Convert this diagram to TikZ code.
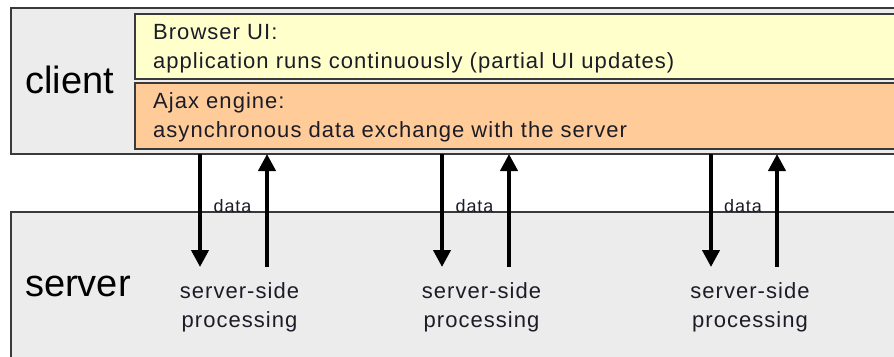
\documentclass[tikz,border=0pt]{standalone}
\usepackage{fontspec}
\setmainfont{Liberation Sans}
\newfontfamily\wfont{Liberation Sans}[LetterSpace=4.7]
\usetikzlibrary{arrows.meta}
\definecolor{uiyellow}{HTML}{FFFFCC}
\definecolor{ajaxorange}{HTML}{FFCC99}
\definecolor{panelgray}{HTML}{ECECEC}
\definecolor{edgegray}{HTML}{3A3A3A}
\definecolor{txt}{HTML}{1C1C28}
\begin{document}
\begin{tikzpicture}[x=1pt,y=-1pt,
  panel/.style={draw=edgegray,line width=1.6pt,fill=panelgray,anchor=north west,inner sep=0pt,outer sep=0pt},
  layer/.style={draw=edgegray,line width=1.4pt,anchor=north west,inner sep=0pt,outer sep=0pt},
  boxtext/.style={anchor=base west,inner sep=0pt,text=txt,font=\wfont\fontsize{22}{26}\selectfont},
  proctext/.style={anchor=base,inner sep=0pt,text=txt,font=\wfont\fontsize{22}{26}\selectfont},
  datatext/.style={anchor=base,inner sep=0pt,text=txt,font=\wfont\fontsize{18}{22}\selectfont},
  bigtext/.style={anchor=base west,inner sep=0pt,text=black,font=\fontsize{38}{40}\selectfont},
  flow/.style={line width=4pt,-{Triangle[width=17pt,length=17pt]}}]
\useasboundingbox (0,0) rectangle (894,356);
\fill[white] (0,0) rectangle (894,356);
% panels
\node[panel,minimum width=900pt,minimum height=146pt] (client) at (11,8) {};
\node[panel,minimum width=900pt,minimum height=160pt] (server) at (11,212) {};
\node[layer,fill=uiyellow,minimum width=780pt,minimum height=65pt] (ui) at (135,14) {};
\node[layer,fill=ajaxorange,minimum width=780pt,minimum height=66pt] (engine) at (135,83) {};
% labels
\node[bigtext] (clientlbl) at (25,93) {client};
\node[bigtext] (serverlbl) at (25,296) {server};
\node[boxtext] (ui1) at (153,39) {Browser UI:};
\node[boxtext] (ui2) at (153,68) {application runs continuously (partial UI updates)};
\node[boxtext] (en1) at (153,108) {Ajax engine:};
\node[boxtext] (en2) at (153,137) {asynchronous data exchange with the server};
% processing points
\foreach \i/\d/\u in {1/200/267, 2/442/509, 3/711/777} {
  \coordinate (down\i) at (\d,267);
  \coordinate (up\i) at (\u,267);
  \draw[flow] (client.south -| down\i) -- (down\i);
  \draw[flow] (up\i) -- (client.south -| up\i);
  \node[datatext] (data\i) at ({(\d+\u)/2-1},212) {data};
  \node[proctext] (ps\i) at ({(\d+\u)/2+6},298) {server-side};
  \node[proctext] (pp\i) at ({(\d+\u)/2+6},327) {processing};
}
\end{tikzpicture}
\end{document}
